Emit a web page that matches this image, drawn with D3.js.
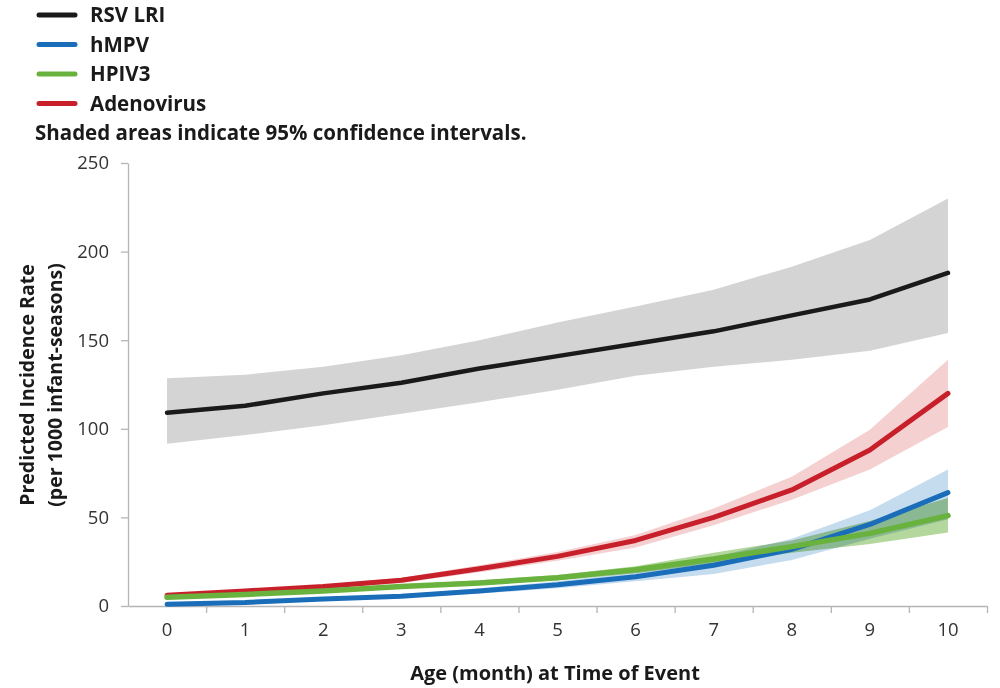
<!DOCTYPE html>
<html>
<head>
<meta charset="utf-8">
<script src="https://cdn.jsdelivr.net/npm/d3@7"></script>
<style>
  body { margin: 0; background: #fff; }
  text { font-family: "Open Sans", sans-serif; }
</style>
</head>
<body>
<div id="chart"></div>
<script>
// months of age (categories on the x axis)
const ages = [0, 1, 2, 3, 4, 5, 6, 7, 8, 9, 10];
const yTicks = [0, 50, 100, 150, 200, 250];

// predicted incidence per 1000 infant-seasons, with 95% CI
const rsv    = [109, 113, 120, 126, 134, 141, 148, 155, 164, 173, 188];
const rsvLo  = [91.5, 96.5, 102, 108.5, 115, 122, 130, 135, 139, 144, 154];
const rsvHi  = [128.5, 130.5, 135, 141.5, 150, 160, 169, 178.5, 191.5, 206.5, 230];

const adeno   = [6, 8.5, 11, 14.5, 21, 28, 37, 50, 65.5, 88, 120];
const adenoLo = [5, 7.5, 9.5, 13, 19, 25.5, 33, 45.5, 60, 77, 101];
const adenoHi = [7, 9.5, 12, 16, 23, 30.5, 40, 55, 73, 99.5, 139];

const hmpv   = [1, 2, 4, 5.5, 8.5, 12, 16.5, 23, 32, 46, 64];
const hmpvLo = [0.5, 1.5, 3, 4.5, 7, 10, 14, 18, 26, 38, 49];
const hmpvHi = [1.5, 2.5, 5, 6.5, 10, 14, 19, 27.5, 38, 54, 77];

const hpiv   = [5, 6.5, 8.5, 11, 13, 16, 20.5, 26.5, 33.5, 41, 51];
const hpivLo = [4, 5.5, 7.5, 10, 12, 14.5, 18.5, 24, 30, 35, 41.5];
const hpivHi = [6, 7.5, 9.5, 12, 14.5, 17.5, 22.5, 30, 37, 48, 61];

const legendNames = ["RSV LRI", "hMPV", "HPIV3", "Adenovirus"];
const legendColors = ["#1a1a1a", "#1a6db8", "#6ab23e", "#c7202b"];

const width = 1000, height = 688;
const marginLeft = 128, plotRight = 987, plotTop = 163, plotBottom = 606;

const svg = d3.select("#chart").append("svg")
    .attr("width", width)
    .attr("height", height);

const x = d3.scaleBand(ages, [marginLeft, plotRight]);
const xc = d => x(d) + x.bandwidth() / 2;
const y = d3.scaleLinear([0, 250], [plotBottom, plotTop]);

// axes
const yAxis = svg.append("g")
    .attr("transform", `translate(${marginLeft},0)`)
    .call(d3.axisLeft(y).tickValues(yTicks).tickSize(7).tickPadding(12).tickSizeOuter(0));
yAxis.selectAll("path, line").attr("stroke", "#b5b5b5").attr("stroke-width", 1.3);
yAxis.selectAll("text").attr("font-size", 18.5).attr("fill", "#333");

const xEdges = d3.scaleLinear([0, ages.length], [marginLeft, plotRight]);
const xTickAxis = svg.append("g")
    .attr("transform", `translate(0,${plotBottom})`)
    .call(d3.axisBottom(xEdges).tickValues(d3.range(1, ages.length + 1)).tickFormat("").tickSize(7).tickSizeOuter(0));
xTickAxis.selectAll("path, line").attr("stroke", "#b5b5b5").attr("stroke-width", 1.3);

const xLabels = svg.append("g")
    .attr("transform", `translate(0,${plotBottom})`)
    .call(d3.axisBottom(x).tickSize(0).tickPadding(17));
xLabels.select(".domain").remove();
xLabels.selectAll("text").attr("font-size", 18.5).attr("fill", "#333");

// bands
const area = (lo, hi) => d3.area()
    .x((d, i) => xc(ages[i]))
    .y0((d, i) => y(lo[i]))
    .y1((d, i) => y(hi[i]))(ages);

const line = vals => d3.line()
    .x((d, i) => xc(ages[i]))
    .y((d, i) => y(vals[i]))(ages);

const bands = svg.append("g");
bands.append("path").attr("d", area(rsvLo, rsvHi)).attr("fill", "#d4d4d4");
bands.append("path").attr("d", area(adenoLo, adenoHi)).attr("fill", "#f4d0d1");
bands.append("path").attr("d", area(hmpvLo, hmpvHi)).attr("fill", "#c5dbee")
    .style("mix-blend-mode", "multiply");
bands.append("path").attr("d", area(hpivLo, hpivHi)).attr("fill", "#b3d79c")
    .style("mix-blend-mode", "multiply");

const series = [
    [rsv, legendColors[0], 4.5],
    [adeno, legendColors[3], 5],
    [hmpv, legendColors[1], 5],
    [hpiv, legendColors[2], 5.5]
];
svg.append("g").selectAll("path")
    .data(series)
    .join("path")
    .attr("d", s => line(s[0]))
    .attr("fill", "none")
    .attr("stroke", s => s[1])
    .attr("stroke-width", s => s[2])
    .attr("stroke-linecap", "round")
    .attr("stroke-linejoin", "round");

// legend
const legend = svg.append("g");
legendNames.forEach((name, i) => {
    const ly = 15 + i * 29.5;
    legend.append("line")
        .attr("x1", 39).attr("x2", 75)
        .attr("y1", ly).attr("y2", ly)
        .attr("stroke", legendColors[i])
        .attr("stroke-width", 5)
        .attr("stroke-linecap", "round");
    legend.append("text")
        .attr("x", 90).attr("y", ly)
        .attr("dy", "0.35em")
        .attr("font-size", 20.5)
        .attr("font-weight", "bold")
        .attr("fill", "#1a1a1a")
        .text(name);
});
legend.append("text")
    .attr("x", 35).attr("y", 133)
    .attr("dy", "0.35em")
    .attr("font-size", 20.5)
    .attr("font-weight", "bold")
    .attr("fill", "#1a1a1a")
    .text("Shaded areas indicate 95% confidence intervals.");

// axis titles
const yTitle = svg.append("text")
    .attr("transform", "translate(34,385) rotate(-90)")
    .attr("text-anchor", "middle")
    .attr("font-size", 19.5)
    .attr("font-weight", "bold")
    .attr("fill", "#1a1a1a");
yTitle.append("tspan").attr("x", 0).attr("y", 0).text("Predicted Incidence Rate");
yTitle.append("tspan").attr("x", 0).attr("y", 28).text("(per 1000 infant-seasons)");

svg.append("text")
    .attr("x", 555).attr("y", 673)
    .attr("dy", "0.35em")
    .attr("text-anchor", "middle")
    .attr("font-size", 20)
    .attr("font-weight", "bold")
    .attr("fill", "#1a1a1a")
    .text("Age (month) at Time of Event");
</script>
</body>
</html>
